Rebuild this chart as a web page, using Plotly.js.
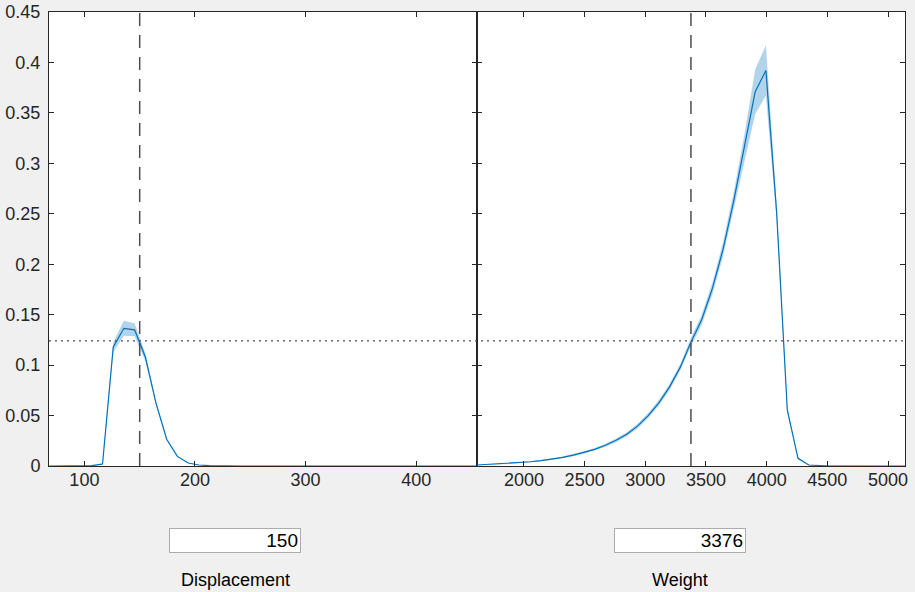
<!DOCTYPE html>
<html>
<head>
<meta charset="utf-8">
<script src="https://cdn.plot.ly/plotly-3.0.1.min.js"></script>
<style>
  html, body { margin: 0; padding: 0; background: #f0f0f0; }
  #chart { width: 915px; height: 592px; }
</style>
</head>
<body>
<div id="chart"></div>
<script>
// ---- Data ----
const predictorNames = ['Displacement', 'Weight'];
const currentValues = [150, 3376];
const currentLabels = ['150', '3376'];
const currentPrediction = 0.124;

const dispX = [68, 77.7, 87.4, 97.0, 106.7, 116.4, 126.1, 135.7, 145.4, 155.1, 164.8, 174.4, 184.1, 193.8, 203.5, 213.1, 222.8, 232.5, 242.2, 251.8, 261.5, 271.2, 280.9, 290.5, 300.2, 309.9, 319.6, 329.2, 338.9, 348.6, 358.3, 367.9, 377.6, 387.3, 397.0, 406.6, 416.3, 426.0, 435.7, 445.3, 455];
const dispY = [0, 0, 0, 0, 0.0003, 0.002, 0.118, 0.1365, 0.135, 0.108, 0.062, 0.0265, 0.0095, 0.003, 0.001, 0.0003, 0, 0, 0, 0, 0, 0, 0, 0, 0, 0, 0, 0, 0, 0, 0, 0, 0, 0, 0, 0, 0, 0, 0, 0, 0];
const dispHi = [0, 0, 0, 0, 0.0004, 0.003, 0.123, 0.144, 0.1415, 0.112, 0.064, 0.0275, 0.010, 0.0033, 0.0011, 0.0003, 0, 0, 0, 0, 0, 0, 0, 0, 0, 0, 0, 0, 0, 0, 0, 0, 0, 0, 0, 0, 0, 0, 0, 0, 0];
const dispLo = [0, 0, 0, 0, 0.0002, 0.001, 0.113, 0.129, 0.1285, 0.104, 0.060, 0.0255, 0.009, 0.0027, 0.0009, 0.0003, 0, 0, 0, 0, 0, 0, 0, 0, 0, 0, 0, 0, 0, 0, 0, 0, 0, 0, 0, 0, 0, 0, 0, 0, 0];

const weightX = [1613, 1701.2, 1789.4, 1877.5, 1965.7, 2053.9, 2142.1, 2230.2, 2318.4, 2406.6, 2494.8, 2582.9, 2671.1, 2759.3, 2847.5, 2935.6, 3023.8, 3112.0, 3200.2, 3288.3, 3376.5, 3464.7, 3552.9, 3641.0, 3729.2, 3817.4, 3905.6, 3993.7, 4081.9, 4170.1, 4258.3, 4346.4, 4434.6, 4522.8, 4611.0, 4699.1, 4787.3, 4875.5, 4963.7, 5051.8, 5140];
const weightY = [0.0010, 0.0015, 0.0020, 0.0025, 0.0033, 0.0042, 0.0053, 0.0067, 0.0085, 0.0107, 0.0133, 0.0165, 0.0205, 0.0255, 0.0315, 0.0395, 0.050, 0.0626, 0.0784, 0.098, 0.123, 0.145, 0.176, 0.215, 0.263, 0.316, 0.371, 0.392, 0.252, 0.0555, 0.0076, 0.001, 0.0002, 0, 0, 0, 0, 0, 0, 0, 0];
const weightHi = [0.0013, 0.0018, 0.0024, 0.0030, 0.0038, 0.0048, 0.0060, 0.0075, 0.0094, 0.0117, 0.0145, 0.0178, 0.0220, 0.0272, 0.0335, 0.0418, 0.0525, 0.0653, 0.0815, 0.1010, 0.127, 0.150, 0.182, 0.222, 0.272, 0.329, 0.393, 0.417, 0.260, 0.0585, 0.0086, 0.0013, 0.0003, 0, 0, 0, 0, 0, 0, 0, 0];
const weightLo = [0.0007, 0.0012, 0.0016, 0.0020, 0.0028, 0.0036, 0.0046, 0.0059, 0.0076, 0.0097, 0.0121, 0.0152, 0.0190, 0.0238, 0.0295, 0.0372, 0.0475, 0.0599, 0.0753, 0.0950, 0.119, 0.140, 0.170, 0.208, 0.254, 0.303, 0.349, 0.367, 0.244, 0.0525, 0.0066, 0.0007, 0.0001, 0, 0, 0, 0, 0, 0, 0, 0];

const yTicks = [0, 0.05, 0.1, 0.15, 0.2, 0.25, 0.3, 0.35, 0.4, 0.45];
const dispTicks = [100, 200, 300, 400];
const weightTicks = [2000, 2500, 3000, 3500, 4000, 4500, 5000];

// ---- Styling ----
const lineColor = '#0072BD';
const bandColor = 'rgba(0,114,189,0.30)';
const axisColor = '#262626';
const tickFont = { family: 'Liberation Sans, Arial, sans-serif', size: 18, color: axisColor };
const labelFont = { family: 'Liberation Sans, Arial, sans-serif', size: 18, color: '#000000' };
const boxFont = { family: 'Liberation Sans, Arial, sans-serif', size: 19, color: '#000000' };

function band(x, lo, hi, xa, ya) {
  return {
    x: x.concat(x.slice().reverse()),
    y: hi.concat(lo.slice().reverse()),
    xaxis: xa, yaxis: ya,
    type: 'scatter', mode: 'lines', fill: 'toself',
    fillcolor: bandColor, line: { width: 0, color: bandColor },
    hoverinfo: 'skip', showlegend: false
  };
}
function curve(x, y, xa, ya) {
  return {
    x: x, y: y, xaxis: xa, yaxis: ya,
    type: 'scatter', mode: 'lines',
    line: { color: lineColor, width: 1.2 },
    showlegend: false
  };
}

const data = [
  band(dispX, dispLo, dispHi, 'x', 'y'),
  curve(dispX, dispY, 'x', 'y'),
  band(weightX, weightLo, weightHi, 'x2', 'y2'),
  curve(weightX, weightY, 'x2', 'y2')
];

const axisBase = {
  showline: true, linecolor: axisColor, linewidth: 1,
  mirror: 'ticks', ticks: 'inside', ticklen: 5, tickwidth: 1, tickcolor: axisColor,
  showgrid: false, zeroline: false, tickfont: tickFont, fixedrange: true
};

function box(cx, text) {
  return { xref: 'paper', yref: 'paper', x: (cx - 49) / 856, y: (466 - 540.5) / 454,
    xanchor: 'center', yanchor: 'middle',
    text: text, showarrow: false, width: 126, height: 19, align: 'right',
    bgcolor: '#ffffff', bordercolor: '#acacac', borderwidth: 1, borderpad: 2, font: boxFont };
}
function label(cx, text) {
  return { xref: 'paper', yref: 'paper', x: (cx - 49) / 856, y: (466 - 580) / 454,
    xanchor: 'center', yanchor: 'middle', text: text, showarrow: false, font: labelFont };
}

const layout = {
  width: 915, height: 592,
  paper_bgcolor: '#f0f0f0', plot_bgcolor: '#ffffff',
  margin: { l: 49, r: 10, t: 12, b: 126 },
  showlegend: false,
  xaxis: Object.assign({}, axisBase, {
    domain: [0, 0.5], range: [dispX[0], dispX[dispX.length - 1]],
    tickvals: dispTicks, ticktext: dispTicks.map(String), anchor: 'y', ticklabelstandoff: -3
  }),
  xaxis2: Object.assign({}, axisBase, {
    domain: [0.5, 1], range: [weightX[0], weightX[weightX.length - 1]],
    tickvals: weightTicks, ticktext: weightTicks.map(String), anchor: 'y2', ticklabelstandoff: -3
  }),
  yaxis: Object.assign({}, axisBase, {
    range: [0, 0.45], tickvals: yTicks, ticktext: yTicks.map(String), anchor: 'x', ticklabelstandoff: 4
  }),
  yaxis2: Object.assign({}, axisBase, {
    range: [0, 0.45], tickvals: yTicks, showticklabels: false, anchor: 'x2'
  }),
  shapes: [
    { type: 'line', xref: 'x', yref: 'paper', x0: currentValues[0], x1: currentValues[0], y0: 0, y1: 1,
      line: { color: '#4d4d4d', width: 1.5, dash: '13px,9px' }, layer: 'above' },
    { type: 'line', xref: 'x2', yref: 'paper', x0: currentValues[1], x1: currentValues[1], y0: 0, y1: 1,
      line: { color: '#4d4d4d', width: 1.5, dash: '13px,9px' }, layer: 'above' },
    { type: 'line', xref: 'paper', yref: 'y', x0: 0, x1: 1, y0: currentPrediction, y1: currentPrediction,
      line: { color: '#4d4d4d', width: 1.2, dash: '2px,4px' }, layer: 'above' }
  ],
  annotations: [
    box(234.5, currentLabels[0]),
    box(679.5, currentLabels[1]),
    label(235, predictorNames[0]),
    label(680, predictorNames[1])
  ]
};

Plotly.newPlot('chart', data, layout, { displayModeBar: false, staticPlot: true });
</script>
</body>
</html>
